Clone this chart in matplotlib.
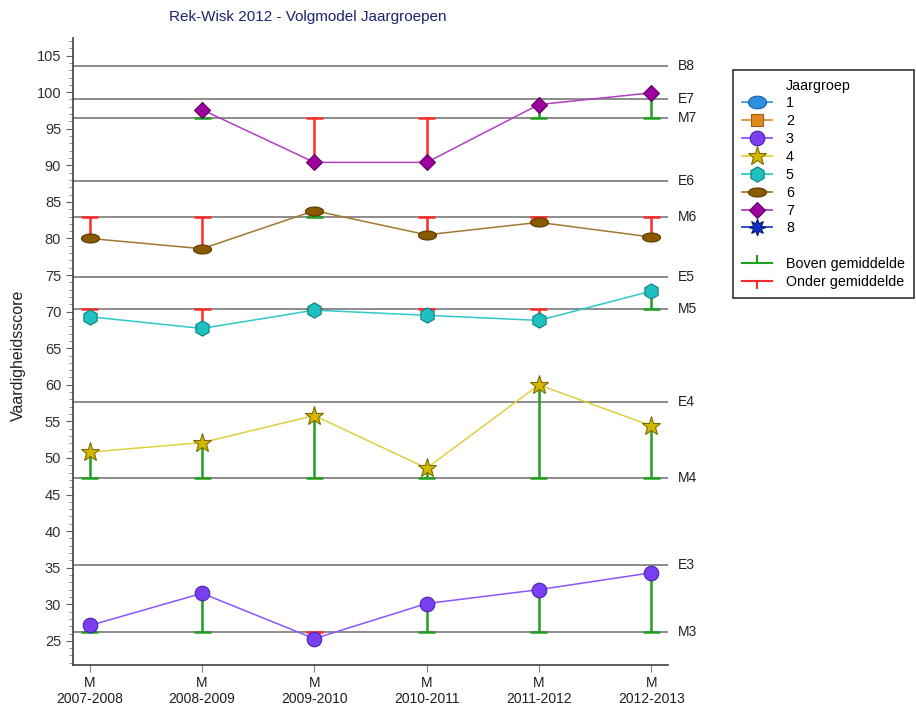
"""Rek-Wisk 2012 - Volgmodel Jaargroepen: skill scores per grade group over school years."""

import matplotlib

matplotlib.use("Agg")
import matplotlib.pyplot as plt
import numpy as np
from matplotlib.lines import Line2D
from matplotlib.path import Path
from matplotlib.ticker import MultipleLocator

plt.rcParams["font.family"] = ["Liberation Sans", "DejaVu Sans"]

# --- data -------------------------------------------------------------------
years = ["2007-2008", "2008-2009", "2009-2010", "2010-2011", "2011-2012", "2012-2013"]

group3 = [27.1, 31.5, 25.3, 30.1, 32.0, 34.3]
group4 = [50.8, 52.1, 55.8, 48.6, 60.0, 54.4]
group5 = [69.3, 67.7, 70.2, 69.5, 68.8, 72.8]
group6 = [80.0, 78.6, 83.8, 80.5, 82.2, 80.2]
group7 = [np.nan, 97.6, 90.4, 90.4, 98.3, 99.9]

# norm lines: M = gemiddelde, E = einde, B = beheersing
ref_labels = ["M3", "E3", "M4", "E4", "M5", "E5", "M6", "E6", "M7", "E7", "B8"]
ref_values = [26.2, 35.3, 47.2, 57.7, 70.3, 74.8, 82.9, 87.9, 96.4, 99.1, 103.6]

# which M line each group's bars hang from
group_means = {3: 26.2, 4: 47.2, 5: 70.3, 6: 82.9, 7: 96.4}
group_values = {3: group3, 4: group4, 5: group5, 6: group6, 7: group7}

# --- styling ----------------------------------------------------------------
theta = np.linspace(0, 2 * np.pi, 40)
ellipse_wide = Path(np.column_stack([np.cos(theta), 0.5 * np.sin(theta)]))
ellipse_mid = Path(np.column_stack([np.cos(theta), 0.7 * np.sin(theta)]))

styles = {
    1: dict(color="#3a9be0", mfc="#2e8ee0", mec="#1a5fa0", marker=ellipse_mid, ms=13),
    2: dict(color="#e09030", mfc="#e08a1e", mec="#9a5a10", marker="s", ms=9),
    3: dict(color="#8a55ff", mfc="#7b3ff2", mec="#4a20b0", marker="o", ms=10.5),
    4: dict(color="#e0d040", mfc="#d4b800", mec="#7a6a00", marker="*", ms=14),
    5: dict(color="#30c8c8", mfc="#1ec0c0", mec="#0f7f80", marker="h", ms=11),
    6: dict(color="#a07830", mfc="#8b5a00", mec="#5a3a00", marker=ellipse_wide, ms=13),
    7: dict(color="#b040c0", mfc="#a000a0", mec="#600060", marker="D", ms=8.5),
    8: dict(color="#2040d0", mfc="#1030c0", mec="#081870", marker=(8, 1, 0), ms=12),
}
green = "#20a020"
red = "#ff2a2a"
ref_color = "#8c8c8c"

fig = plt.figure(figsize=(9.16, 7.11), dpi=100)
ax = fig.add_axes([73 / 916, 1 - 665 / 711, 595 / 916, 627 / 711])

x = np.arange(len(years))
ax.set_xlim(-0.15, len(years) - 1 + 0.15)
ax.set_ylim(21.7, 107.4)

# reference lines with labels on the right
for label, val in zip(ref_labels, ref_values):
    ax.axhline(val, color=ref_color, lw=1.4, zorder=1)
    ax.text(1.017, val, label, transform=ax.get_yaxis_transform(), va="center",
            ha="left", fontsize=10, color="#202020")

# bars from the group mean line to each score
cap = 0.075
for g, vals in group_values.items():
    m = group_means[g]
    for xi, v in zip(x, vals):
        if np.isnan(v):
            continue
        c = green if v >= m else red
        ax.vlines(xi, m, v, color=c, lw=1.8, zorder=2)
        ax.hlines(m, xi - cap, xi + cap, color=c, lw=1.8, zorder=2)

# score lines
for g, vals in group_values.items():
    s = styles[g]
    ax.plot(x, vals, color=s["color"], lw=1.1, marker=s["marker"], ms=s["ms"],
            mfc=s["mfc"], mec=s["mec"], mew=0.8, zorder=3)

ax.set_xticks(x)
ax.set_xticklabels(["M\n" + y for y in years], fontsize=10, color="#202020")
ax.yaxis.set_major_locator(MultipleLocator(5))
ax.yaxis.set_minor_locator(MultipleLocator(1))
ax.tick_params(axis="y", labelsize=10.5, labelcolor="#303030", color="#606060", length=5)
ax.tick_params(axis="y", which="minor", color="#808080", length=3)
ax.tick_params(axis="x", color="#808080", length=5, pad=3)
for side in ("top", "right"):
    ax.spines[side].set_visible(False)
for side in ("left", "bottom"):
    ax.spines[side].set_color("#404040")
    ax.spines[side].set_linewidth(1.2)

fig.text(18 / 916, 1 - 355 / 711, "Vaardigheidsscore", rotation=90, ha="center",
         va="center", fontsize=11.5, color="#202020")
fig.text(308 / 916, 1 - 17 / 711, "Rek-Wisk 2012 - Volgmodel Jaargroepen", ha="center",
         va="center", fontsize=11, color="#1c2270")

# legend
handles = [Line2D([], [], lw=0, marker="")]
labels = ["Jaargroep"]
for g in range(1, 9):
    s = styles[g]
    handles.append(Line2D([], [], color=s["color"], lw=1.3, marker=s["marker"], ms=s["ms"],
                          mfc=s["mfc"], mec=s["mec"], mew=0.8))
    labels.append(str(g))
handles.append(Line2D([], [], lw=0, marker=""))
labels.append(" ")
handles.append(Line2D([], [], color=green, lw=1.5, marker=2, ms=6, mew=1.5))
labels.append("Boven gemiddelde")
handles.append(Line2D([], [], color=red, lw=1.5, marker=3, ms=6, mew=1.5))
labels.append("Onder gemiddelde")

leg = fig.legend(handles, labels, loc="upper left", bbox_to_anchor=(733 / 916, 1 - 70 / 711),
                 fontsize=10.3, frameon=True, fancybox=False, handlelength=2.1,
                 handletextpad=1.0, labelspacing=0.27, borderpad=0.6, borderaxespad=0)
leg.get_frame().set_edgecolor("black")
leg.get_frame().set_linewidth(1.2)

fig.savefig("out.png", dpi=100)
